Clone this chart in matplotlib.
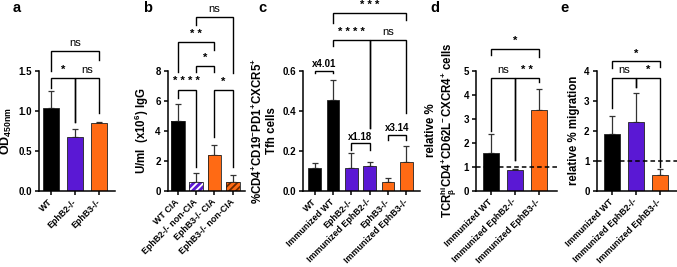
import matplotlib.pyplot as plt
import numpy as np

plt.rcParams['font.family'] = ['Liberation Sans', 'DejaVu Sans']
plt.rcParams['font.weight'] = 'bold'
plt.rcParams['mathtext.default'] = 'regular'
plt.rcParams['hatch.linewidth'] = 1.3

BLACK = '#000000'
PURPLE = '#5a18d4'
ORANGE = '#ff6a14'

# Данные
a_labels = ['WT', 'EphB2-/-', 'EphB3-/-']
a_vals = [1.03, 0.675, 0.845]
a_err = [0.21, 0.10, 0.012]

b_labels = ['WT CIA', 'EphB2-/- non-CIA', 'EphB3-/- CIA', 'EphB3-/- non-CIA']
b_vals = [4.62, 0.55, 2.38, 0.55]
b_err = [1.12, 0.60, 0.68, 0.50]

c_labels = ['WT', 'Immunized WT', 'EphB2-/-', 'Immunized EphB2-/-', 'EphB3-/-', 'Immunized EphB3-/-']
c_vals = [0.112, 0.453, 0.115, 0.125, 0.045, 0.145]
c_err = [0.025, 0.100, 0.072, 0.020, 0.017, 0.078]

d_labels = ['Immunized WT', 'Immunized EphB2-/-', 'Immunized EphB3-/-']
d_vals = [1.56, 0.86, 3.36]
d_err = [0.79, 0.05, 0.88]

e_labels = ['Immunized WT', 'Immunized EphB2-/-', 'Immunized EphB3-/-']
e_vals = [1.88, 2.28, 0.53]
e_err = [0.61, 0.97, 0.18]

# скобки: (x1, x2, y, y левого конца, y правого конца, текст)
a_br = [(0, 2, 1.74, 1.49, 1.63, 'ns'), (0, 1, 1.405, 1.28, 0.86, '*'), (1, 2, 1.405, 0.86, 0.97, 'ns')]
b_br = [(1, 3, 11.55, 11.0, 7.84, 'ns'), (0, 2, 9.89, 7.90, 9.39, '* *'), (1, 2, 8.30, 7.90, 7.90, '*'),
        (0, 1, 6.73, 6.14, 1.59, '* * * *'), (2, 3, 6.73, 3.59, 1.59, '*')]
c_br = [(1, 5, 0.887, 0.837, 0.853, '* * *'), (1, 3, 0.753, 0.72, 0.312, '* * * *'),
        (3, 5, 0.753, 0.312, 0.387, 'ns')]
c_fold = [(0, 1, 0.60, 0.587, 0.587, 'x4.01'), (2, 3, 0.237, 0.2035, 0.2035, 'x1.18'),
          (4, 5, 0.2785, 0.2535, 0.2535, 'x3.14')]
d_br = [(0, 2, 5.89, 5.65, 5.58, '*'), (0, 1, 4.70, 2.50, 1.28, 'ns'), (1, 2, 4.70, 1.28, 4.54, '* *')]
e_br = [(0, 2, 4.30, 4.08, 4.13, '*'), (0, 1, 3.75, 2.75, 3.45, 'ns'), (1, 2, 3.75, 3.45, 0.80, '*')]

W, H = 677, 267
fig = plt.figure(figsize=(W / 100, H / 100), dpi=100)


def px_axes(x0, x1, ytop, ybot):
    return fig.add_axes([x0 / W, (H - ybot) / H, (x1 - x0) / W, (ybot - ytop) / H])


def style(ax, labels, xlim, ylim, yticks, fmt):
    for s in ['top', 'right']:
        ax.spines[s].set_visible(False)
    for s in ['left', 'bottom']:
        ax.spines[s].set_linewidth(1.1)
    ax.set_xlim(*xlim)
    ax.set_ylim(*ylim)
    ax.set_yticks(yticks)
    ax.set_yticklabels([fmt.format(t) for t in yticks], fontsize=7, fontweight='bold')
    ax.set_xticks(range(len(labels)))
    ax.set_xticklabels(labels, rotation=45, ha='right', va='center', rotation_mode='anchor',
                       fontsize=6.4, fontweight='bold')
    ax.tick_params(axis='both', length=3, width=1.1, pad=2)
    ax.tick_params(axis='x', pad=4)


def bars(ax, vals, errs, colors, width):
    x = np.arange(len(vals))
    ax.bar(x, vals, width=width, color=colors, edgecolor='#222222', linewidth=0.6, zorder=2)
    ax.errorbar(x, vals, yerr=[np.zeros(len(errs)), errs], fmt='none', ecolor='#333333',
                elinewidth=0.9, capsize=2.2, capthick=0.9, zorder=1)


def bracket(ax, br, size=8, off=3.7):
    for x1, x2, y, yl, yr, t in br:
        ax.plot([x1, x1, x2, x2], [yl, y, y, yr], color='black', lw=1.0, clip_on=False,
                solid_joinstyle='miter', zorder=3)
        w = 'normal' if t == 'ns' else 'bold'
        ax.annotate(t, xy=((x1 + x2) / 2, y), xytext=(0, off), textcoords='offset points',
                    ha='center', va='baseline', fontsize=size, fontweight=w, annotation_clip=False)


# a
ax = px_axes(39, 115, 70.5, 190.7)
bars(ax, a_vals, a_err, [BLACK, PURPLE, ORANGE], 0.67)
style(ax, a_labels, (-0.52, 2.65), (0, 1.5), [0, 0.5, 1.0, 1.5], '{:.1f}')
ax.set_ylabel('OD$_{450nm}$', fontsize=9, fontweight='bold', labelpad=3)
bracket(ax, a_br)

# b
ax = px_axes(167.7, 245, 70.5, 190.7)
x = np.arange(4)
ax.bar(x, b_vals, width=0.75, color=[BLACK, PURPLE, ORANGE, ORANGE],
       edgecolor=['#222222', 'white', '#222222', '#6a2a00'], linewidth=0, zorder=2,
       hatch=['', '/////', '', '/////'])
ax.bar(x, b_vals, width=0.75, fill=False, edgecolor='#222222', linewidth=0.6, zorder=2)
ax.errorbar(x, b_vals, yerr=[np.zeros(4), b_err], fmt='none', ecolor='#333333',
            elinewidth=0.9, capsize=2.2, capthick=0.9, zorder=1)
style(ax, b_labels, (-0.55, 3.67), (0, 8), [0, 2, 4, 6, 8], '{:d}')
ax.set_ylabel('U/ml  (x10$^{6}$) IgG', fontsize=8.3, fontweight='bold', labelpad=3)
bracket(ax, b_br)

# c
ax = px_axes(302.7, 420, 70.5, 190.7)
bars(ax, c_vals, c_err, [BLACK, BLACK, PURPLE, PURPLE, ORANGE, ORANGE], 0.69)
style(ax, c_labels, (-0.65, 5.74), (0, 0.6), [0, 0.2, 0.4, 0.6], '{:.1f}')
ax.set_ylabel('%CD4$^{+}$CD19$^{-}$PD1$^{+}$CXCR5$^{+}$\nTfh cells', fontsize=8.3,
              fontweight='bold', labelpad=3, linespacing=1.1)
bracket(ax, c_br)
bracket(ax, c_fold, size=7, off=2.5)

# d
ax = px_axes(476, 557, 70.5, 190.7)
bars(ax, d_vals, d_err, [BLACK, PURPLE, ORANGE], 0.67)
ax.axhline(1, color='black', lw=1.1, ls=(0, (3, 2)), zorder=4)
style(ax, d_labels, (-0.625, 2.75), (0, 5), [0, 1, 2, 3, 4, 5], '{:d}')
ax.set_ylabel('relative %\nTCR$_{\\beta}^{hi}$CD4$^{+}$CD62L$^{-}$CXCR4$^{+}$ cells', fontsize=8.3,
              fontweight='bold', labelpad=3, linespacing=1.1)
bracket(ax, d_br)

# e
ax = px_axes(596.5, 677, 70.5, 190.7)
bars(ax, e_vals, e_err, [BLACK, PURPLE, ORANGE], 0.66)
ax.axhline(1, color='black', lw=1.1, ls=(0, (3, 2)), zorder=4)
style(ax, e_labels, (-0.64, 2.7), (0, 4), [0, 1, 2, 3, 4], '{:d}')
ax.set_ylabel('relative % migration', fontsize=8.3, fontweight='bold', labelpad=3)
bracket(ax, e_br)

# буквы панелей
for t, xp in zip('abcde', [13, 143, 258, 430, 560]):
    fig.text(xp / W, 1 - 0.5 / H, t, fontsize=10.5, fontweight='bold', va='top', ha='left')

fig.savefig('out.png', dpi=100)
